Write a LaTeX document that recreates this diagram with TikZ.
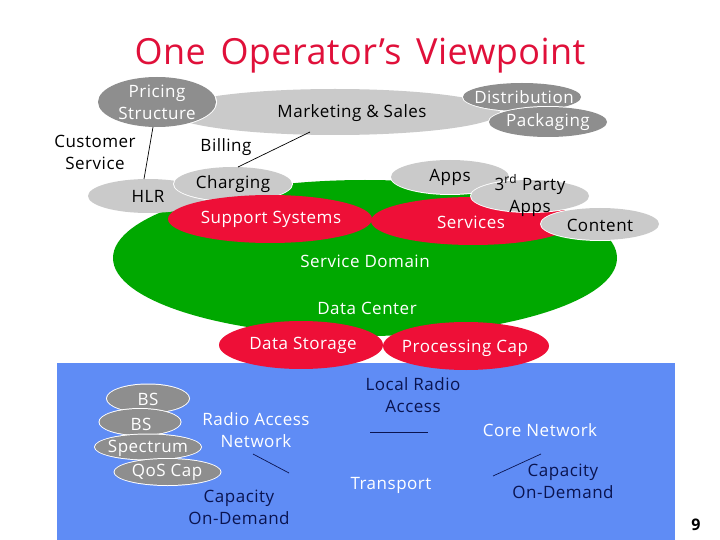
\documentclass[tikz,border=0pt]{standalone}
\usepackage{fontspec}
\setmainfont{Open Sans}
\newfontfamily\lblfont[LetterSpace=3]{Open Sans}
\newfontfamily\ttlfont[LetterSpace=1.2,WordSpace=1.5]{Open Sans}
\definecolor{grn}{HTML}{00A800}
\definecolor{redd}{HTML}{EE0F37}
\definecolor{lgray}{HTML}{CACACA}
\definecolor{dgray}{HTML}{8E8E8E}
\definecolor{blu}{HTML}{5F8CF5}
\definecolor{navy}{HTML}{0A1450}
\definecolor{ttl}{HTML}{E0103A}
\tikzset{
  lab/.style={font=\lblfont\fontsize{17}{22}\selectfont,align=center,inner sep=0pt,text=black,yshift=-0.5pt},
  wlab/.style={lab,text=white},
  nlab/.style={lab,text=navy},
  conn/.style={draw=black,line width=0.7pt}
}
\begin{document}
\begin{tikzpicture}[x=1pt,y=-1pt]
\useasboundingbox (0,0) rectangle (720,540);
\fill[white] (0,0) rectangle (720,540);
% backgrounds
\fill[grn] (365,258) ellipse [x radius=252,y radius=78];
\fill[blu] (57,363) rectangle (675,540);
% upper
\fill[lgray] (335,112) ellipse [x radius=165,y radius=23];
\fill[lgray] (148,196) ellipse [x radius=60,y radius=17];
\fill[white] (233,184) ellipse [x radius=60,y radius=18];
\fill[lgray] (233,184) ellipse [x radius=59,y radius=17];
\fill[white] (157,102) ellipse [x radius=60,y radius=26];
\fill[dgray] (157,102) ellipse [x radius=59,y radius=25];
\fill[white] (522,97) ellipse [x radius=60,y radius=15];
\fill[dgray] (522,97) ellipse [x radius=59,y radius=14];
\fill[white] (548,122) ellipse [x radius=60,y radius=16];
\fill[dgray] (548,122) ellipse [x radius=59,y radius=15];
% red
\fill[redd] (270,219) ellipse [x radius=102,y radius=24];
\fill[redd] (473,221) ellipse [x radius=102,y radius=24];
\fill[redd] (301,345) ellipse [x radius=82,y radius=24];
\fill[redd] (466,346) ellipse [x radius=83,y radius=24];
% apps
\fill[white] (450,177) ellipse [x radius=60,y radius=18];
\fill[lgray] (450,177) ellipse [x radius=59,y radius=17];
\fill[white] (530,196) ellipse [x radius=60,y radius=17];
\fill[lgray] (530,196) ellipse [x radius=59,y radius=16];
\fill[white] (600,224) ellipse [x radius=60,y radius=17];
\fill[lgray] (600,224) ellipse [x radius=59,y radius=16];
% stacked
\foreach \x/\y/\rx/\ry in {148/398.5/42/15,140/422/41.5/14,148/447/54/13.5,167.5/472/54/14}{
  \fill[white] (\x,\y) ellipse [x radius=\rx,y radius=\ry];
  \fill[dgray] (\x,\y) ellipse [x radius=\rx-1,y radius=\ry-1];
}
% labels
\node[font=\ttlfont\fontsize{36}{40}\selectfont,text=ttl,inner sep=0pt] (title) at (360,56) {One Operator’s Viewpoint};
\node[wlab] (pricing) at (157,102) {Pricing\\Structure};
\node[lab] (mkt) at (352,113) {Marketing \& Sales};
\node[wlab] (dist) at (524,97) {Distribution};
\node[wlab] (pack) at (548,122) {Packaging};
\node[lab] (cust) at (95,152) {Customer\\Service};
\node[lab] (bill) at (226,147) {Billing};
\node[lab] (hlr) at (148,196) {HLR};
\node[lab] (chg) at (233,184) {Charging};
\node[wlab] (sup) at (271,219) {Support Systems};
\node[lab] (apps) at (450,177) {Apps};
\node[lab,align=center] (third) at (530,195) {3\textsuperscript{rd} Party\\Apps};
\node[wlab] (serv) at (471,222) {Services};
\node[lab] (cont) at (600,225) {Content};
\node[wlab] (sd) at (365,261) {Service Domain};
\node[wlab] (dc) at (367,308) {Data Center};
\node[wlab] (ds) at (303,345) {Data Storage};
\node[wlab] (pc) at (465,348) {Processing Cap};
\node[nlab] (lra) at (413,395) {Local Radio\\Access};
\node[wlab] (ran) at (256,430) {Radio Access\\Network};
\node[wlab] (bs1) at (148,399) {BS};
\node[wlab] (bs2) at (141,424) {BS};
\node[wlab] (spec) at (148,448) {Spectrum};
\node[wlab] (qos) at (167,472) {QoS Cap};
\node[nlab] (cap1) at (239,507) {Capacity\\On-Demand};
\node[wlab] (trans) at (391,485) {Transport};
\node[wlab] (core) at (540,430) {Core Network};
\node[nlab] (cap2) at (563,481) {Capacity\\On-Demand};
\node[font=\fontsize{16}{20}\selectfont\bfseries,inner sep=0pt] (pg) at (696,525) {9};
% connectors
\coordinate (a1) at (153,127); \coordinate (a2) at (144,179);
\coordinate (b1) at (310,132); \coordinate (b2) at (238,167);
\coordinate (c1) at (370,432); \coordinate (c2) at (428,432);
\coordinate (d1) at (253,454); \coordinate (d2) at (289,473);
\coordinate (e1) at (493,476); \coordinate (e2) at (541,454);
\draw[conn] (a1)--(a2);
\draw[conn] (b1)--(b2);
\draw[conn,navy] (c1)--(c2);
\draw[conn,navy] (d1)--(d2);
\draw[conn,navy] (e1)--(e2);
\end{tikzpicture}
\end{document}
